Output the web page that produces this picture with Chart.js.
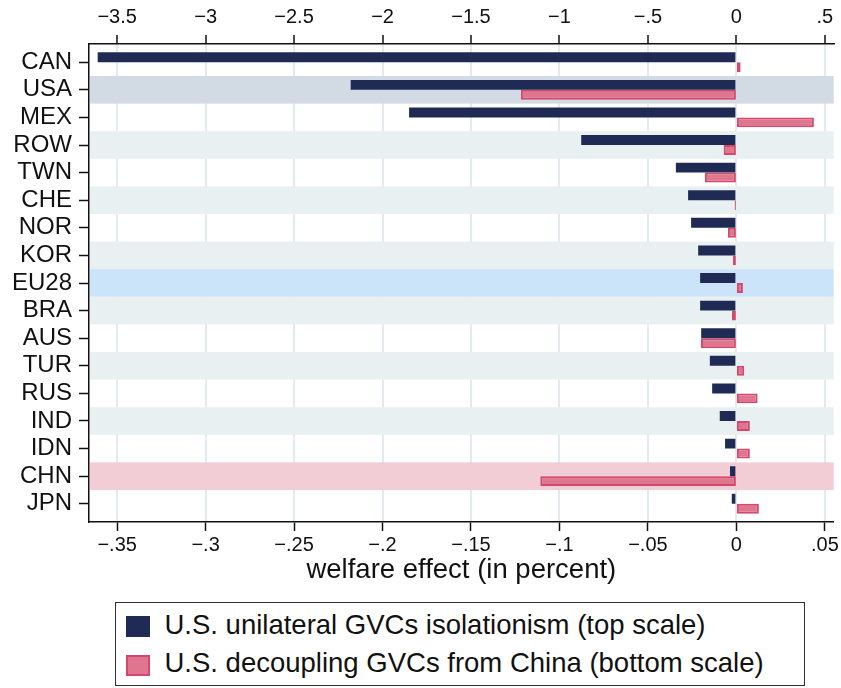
<!DOCTYPE html>
<html>
<head>
<meta charset="utf-8">
<script src="https://cdn.jsdelivr.net/npm/chart.js@4.4.1/dist/chart.umd.min.js"></script>
<style>
body { margin: 0; background: #fff; font-family: "Liberation Sans", Arial, sans-serif; }
#wrap { position: relative; width: 841px; height: 688px; }
#legend { position: absolute; left: 115px; top: 602px; width: 690px; height: 84px; border: 1.5px solid #333; box-sizing: border-box; }
.key { position: absolute; left: 9.5px; width: 24px; height: 21px; box-sizing: border-box; }
.lab { position: absolute; left: 48.5px; font-size: 27.5px; line-height: 32px; color: #111; white-space: nowrap; }
</style>
</head>
<body>
<div id="wrap">
  <canvas id="welfare" width="841" height="600"></canvas>
  <div id="legend">
    <div class="key" style="top:12.5px; background:#1f2b55"></div>
    <div class="lab" style="top:6px">U.S. unilateral GVCs isolationism (top scale)</div>
    <div class="key" style="top:51.5px; background:#e07590; border:2px solid #d3486c"></div>
    <div class="lab" style="top:44.3px">U.S. decoupling GVCs from China (bottom scale)</div>
  </div>
</div>
<script>
var countries = ["CAN", "USA", "MEX", "ROW", "TWN", "CHE", "NOR", "KOR", "EU28", "BRA", "AUS", "TUR", "RUS", "IND", "IDN", "CHN", "JPN"]
// top scale
var isolationism = [-3.61, -2.18, -1.85, -0.877, -0.342, -0.273, -0.256, -0.216, -0.205, -0.205, -0.199, -0.150, -0.137, -0.094, -0.064, -0.036, -0.026]
// bottom scale
var decoupling = [0.0024, -0.1218, 0.0438, -0.0072, -0.0178, -0.001, -0.0048, -0.002, 0.0037, -0.0025, -0.020, 0.0044, 0.012, 0.0076, 0.0076, -0.1108, 0.0127]
var topTicks = [-3.5, -3, -2.5, -2, -1.5, -1, -0.5, 0, 0.5]
var bottomTicks = [-0.35, -0.3, -0.25, -0.2, -0.15, -0.1, -0.05, 0, 0.05]

var fontFam = '"Liberation Sans", Arial, sans-serif'

function fmt(v) {
    if (v === 0) return "0"
    var s = String(Math.abs(Math.round(v * 100) / 100)).replace(/^0/, "")
    return (v < 0 ? "\u2212" : "") + s
}

// row shading drawn over the grid, under the bars
var bandPlugin = {
    id: "bands",
    beforeDatasetsDraw: function (chart) {
        var ctx = chart.ctx, area = chart.chartArea, y = chart.scales.y
        var step = Math.abs(y.getPixelForValue(1) - y.getPixelForValue(0))
        ctx.save()
        countries.forEach(function (c, i) {
            var col = null
            if (c == "USA") col = "#d2dae3"
            else if (c == "EU28") col = "#cce4fa"
            else if (c == "CHN") col = "#f2cdd5"
            else if (i % 2 == 1) col = "#e9f0f2"
            if (!col) return
            var mid = y.getPixelForValue(i)
            ctx.fillStyle = col
            ctx.fillRect(area.left + 1, mid - step / 2, area.right - area.left - 1, step)
        })
        ctx.restore()
    }
}

new Chart("welfare", {
    type: "bar",
    data: {
        datasets: [
            {
                label: "U.S. unilateral GVCs isolationism (top scale)",
                data: countries.map(function (c, i) { return { x: isolationism[i], y: i } }),
                xAxisID: "xTop",
                backgroundColor: "#1f2b55",
                borderWidth: 0,
                categoryPercentage: 0.72,
                barPercentage: 1
            },
            {
                label: "U.S. decoupling GVCs from China (bottom scale)",
                data: countries.map(function (c, i) { return { x: decoupling[i], y: i } }),
                xAxisID: "x",
                backgroundColor: "#e07590",
                borderColor: "#d3486c",
                borderWidth: 2,
                borderSkipped: false,
                categoryPercentage: 0.72,
                barPercentage: 1
            }
        ]
    },
    options: {
        indexAxis: "y",
        responsive: false,
        animation: false,
        devicePixelRatio: 1,
        layout: { padding: { left: 0, right: 7.3, top: 0, bottom: 0 } },
        plugins: { legend: { display: false }, tooltip: { enabled: false } },
        scales: {
            y: {
                type: "linear",
                reverse: true,
                offset: false,
                bounds: "data",
                min: -0.66,
                max: 16.66,
                afterBuildTicks: function (s) { s.ticks = countries.map(function (c, i) { return { value: i } }) },
                afterFit: function (s) { s.width = 89 },
                ticks: {
                    callback: function (v) { return countries[v] },
                    font: { family: fontFam, size: 24 },
                    color: "#111",
                    padding: 7,
                    autoSkip: false
                },
                grid: { offset: false, drawOnChartArea: false, tickLength: 10, tickColor: "#111", tickWidth: 1.5 },
                border: { display: true, color: "#111", width: 1.5 }
            },
            xTop: {
                type: "linear",
                position: "top",
                bounds: "data",
                min: -3.659,
                max: 0.550,
                afterBuildTicks: function (s) { s.ticks = topTicks.map(function (v) { return { value: v } }) },
                afterFit: function (s) { s.height = 44 },
                ticks: {
                    callback: function (v) { return fmt(v) },
                    font: { family: fontFam, size: 20 },
                    color: "#111",
                    padding: 6,
                    maxRotation: 0,
                    autoSkip: false
                },
                grid: { color: "#e3ebef", lineWidth: 2, tickLength: 9, tickColor: "#111", tickWidth: 1.5 },
                border: { display: true, color: "#111", width: 1.5 }
            },
            x: {
                type: "linear",
                position: "bottom",
                bounds: "data",
                min: -0.3659,
                max: 0.0550,
                afterBuildTicks: function (s) { s.ticks = bottomTicks.map(function (v) { return { value: v } }) },
                afterFit: function (s) { s.height = 78 },
                ticks: {
                    callback: function (v) { return fmt(v) },
                    font: { family: fontFam, size: 20 },
                    color: "#111",
                    padding: 2,
                    maxRotation: 0,
                    autoSkip: false
                },
                grid: { drawOnChartArea: false, tickLength: 9, tickColor: "#111", tickWidth: 1.5 },
                border: { display: true, color: "#111", width: 1.5 },
                title: {
                    display: true,
                    text: "welfare effect (in percent)",
                    font: { family: fontFam, size: 27.5 },
                    color: "#111",
                    padding: { top: 0, bottom: 13.5 }
                }
            }
        }
    },
    plugins: [bandPlugin]
});
</script>
</body>
</html>
